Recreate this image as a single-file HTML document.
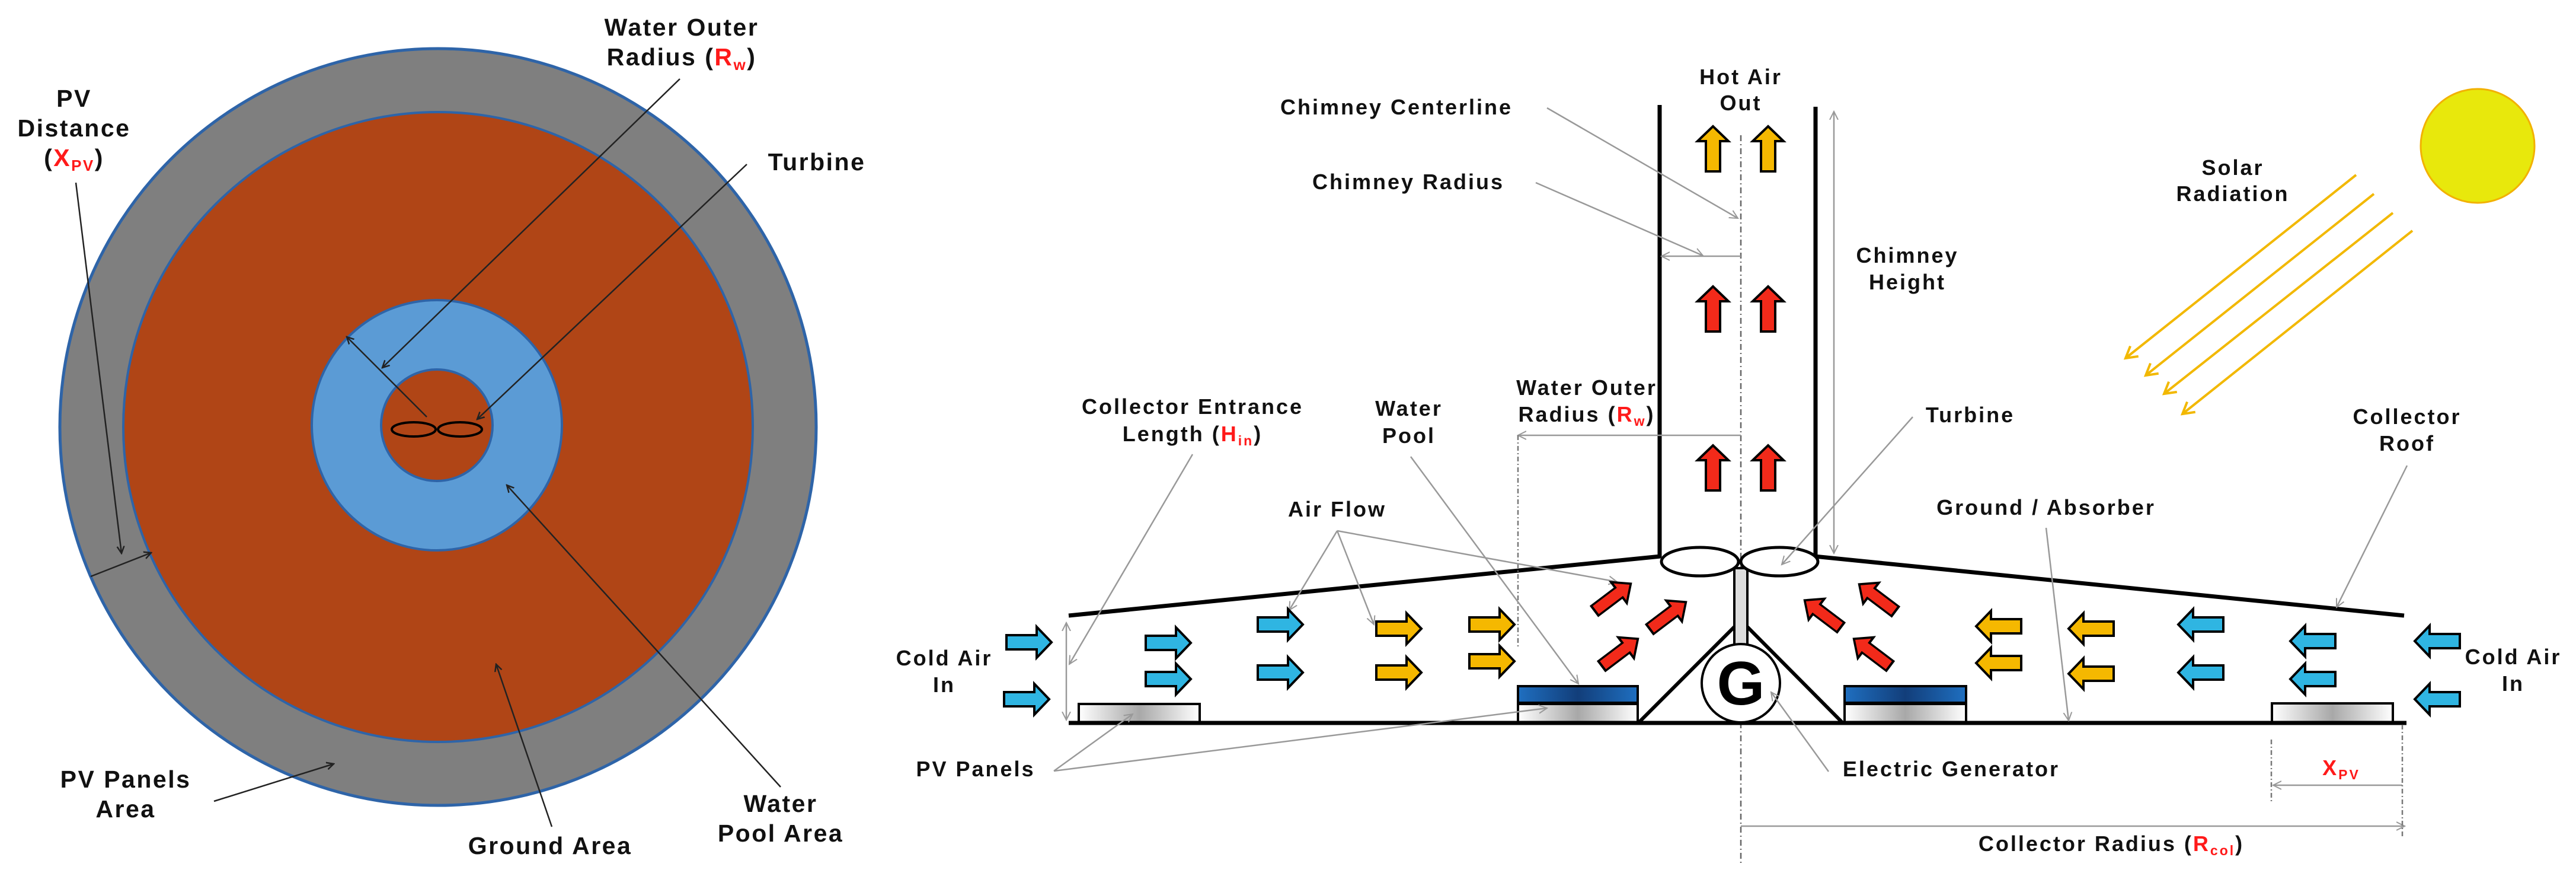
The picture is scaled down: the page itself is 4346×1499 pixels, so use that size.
<!DOCTYPE html>
<html><head><meta charset="utf-8"><style>
html,body{margin:0;padding:0;background:#fff}
svg{display:block}
text{font-family:"Liberation Sans",Arial,sans-serif;font-weight:bold;fill:#111}
.L{font-size:41px;letter-spacing:2.5px}
.R{font-size:36px;letter-spacing:3px}
.red{fill:#ff1a1a}
</style></head><body>
<svg width="4346" height="1499" viewBox="0 0 4346 1499" xmlns="http://www.w3.org/2000/svg">
<defs>
<marker id="ak" markerWidth="14" markerHeight="14" refX="12" refY="7" orient="auto" markerUnits="userSpaceOnUse"><path d="M0,1 L12,7 L0,13" fill="none" stroke="#222" stroke-width="2.5"/></marker>
<marker id="ag" markerWidth="16" markerHeight="16" refX="14" refY="8" orient="auto" markerUnits="userSpaceOnUse"><path d="M0,1 L14,8 L0,15" fill="none" stroke="#999" stroke-width="2"/></marker>
<marker id="ay" markerWidth="26" markerHeight="26" refX="20" refY="13" orient="auto" markerUnits="userSpaceOnUse"><path d="M1,2 L20,13 L1,24" fill="none" stroke="#f2b800" stroke-width="4"/></marker>
<path id="ar" d="M-38,-12 L13,-12 L13,-26 L38,0 L13,26 L13,12 L-38,12Z" stroke="#000" stroke-width="4" stroke-linejoin="miter"/>
<linearGradient id="pv" x1="0" x2="1" y1="0" y2="0"><stop offset="0" stop-color="#fff"/><stop offset="0.5" stop-color="#a8a8a8"/><stop offset="1" stop-color="#fff"/></linearGradient>
<linearGradient id="wp" x1="0" x2="1" y1="0" y2="0"><stop offset="0" stop-color="#1f6fc0"/><stop offset="0.5" stop-color="#123e7a"/><stop offset="1" stop-color="#1f6fc0"/></linearGradient>
</defs>

<!-- LEFT PANEL -->
<circle cx="739" cy="720" r="638" fill="#7f7f7f" stroke="#2e64a8" stroke-width="5"/>
<circle cx="739" cy="720" r="531" fill="#b04516" stroke="#2e64a8" stroke-width="4"/>
<circle cx="737" cy="717" r="211" fill="#5b9bd5" stroke="#2e64a8" stroke-width="4"/>
<circle cx="737" cy="717" r="94" fill="#b04516" stroke="#2e64a8" stroke-width="4"/>
<ellipse cx="698" cy="724" rx="37" ry="12" fill="none" stroke="#000" stroke-width="4"/>
<ellipse cx="776" cy="724" rx="37" ry="12" fill="none" stroke="#000" stroke-width="4"/>
<g stroke="#222" stroke-width="2.5" fill="none">
<line x1="1147" y1="133" x2="645" y2="620" marker-end="url(#ak)"/>
<line x1="720" y1="703" x2="585" y2="568" marker-end="url(#ak)"/>
<line x1="1260" y1="277" x2="805" y2="707" marker-end="url(#ak)"/>
<line x1="128" y1="308" x2="205" y2="933" marker-end="url(#ak)"/>
<line x1="153" y1="972" x2="255" y2="932" marker-end="url(#ak)"/>
<line x1="361" y1="1351" x2="563" y2="1288" marker-end="url(#ak)"/>
<line x1="931" y1="1394" x2="837" y2="1120" marker-end="url(#ak)"/>
<line x1="1317" y1="1327" x2="855" y2="818" marker-end="url(#ak)"/>
</g>
<text class="L" x="1150" y="60" text-anchor="middle">Water Outer</text>
<text class="L" x="1150" y="110" text-anchor="middle">Radius (<tspan class="red">R<tspan font-size="26" dy="8">w</tspan></tspan><tspan dy="-8">)</tspan></text>
<text class="L" x="1378" y="287" text-anchor="middle">Turbine</text>
<text class="L" x="125" y="180" text-anchor="middle">PV</text>
<text class="L" x="125" y="230" text-anchor="middle">Distance</text>
<text class="L" x="125" y="280" text-anchor="middle">(<tspan class="red">X<tspan font-size="26" dy="8">PV</tspan></tspan><tspan dy="-8">)</tspan></text>
<text class="L" x="212" y="1328" text-anchor="middle">PV Panels</text>
<text class="L" x="212" y="1378" text-anchor="middle">Area</text>
<text class="L" x="928" y="1440" text-anchor="middle">Ground Area</text>
<text class="L" x="1317" y="1369" text-anchor="middle">Water</text>
<text class="L" x="1317" y="1419" text-anchor="middle">Pool Area</text>

<!-- RIGHT PANEL -->
<line x1="2937" y1="228" x2="2937" y2="1458" stroke="#666" stroke-width="2.5" stroke-dasharray="10,5,2,5"/>
<line x1="2800" y1="177" x2="2800" y2="940" stroke="#000" stroke-width="7"/>
<line x1="3063" y1="180" x2="3063" y2="940" stroke="#000" stroke-width="7"/>
<line x1="1803" y1="1038" x2="2802" y2="938" stroke="#000" stroke-width="7"/>
<line x1="3061" y1="938" x2="4056" y2="1038" stroke="#000" stroke-width="7"/>
<rect x="1820" y="1187" width="204" height="31" fill="url(#pv)" stroke="#000" stroke-width="4"/>
<rect x="2561" y="1187" width="202" height="31" fill="url(#pv)" stroke="#000" stroke-width="4"/>
<rect x="2561" y="1157" width="202" height="28" fill="url(#wp)" stroke="#000" stroke-width="4"/>
<rect x="3112" y="1187" width="205" height="31" fill="url(#pv)" stroke="#000" stroke-width="4"/>
<rect x="3112" y="1157" width="205" height="28" fill="url(#wp)" stroke="#000" stroke-width="4"/>
<rect x="3833" y="1186" width="204" height="32" fill="url(#pv)" stroke="#000" stroke-width="4"/>
<line x1="1803" y1="1219" x2="4060" y2="1219" stroke="#000" stroke-width="7"/>
<line x1="2765" y1="1218" x2="2926" y2="1057" stroke="#000" stroke-width="6"/>
<line x1="2948" y1="1057" x2="3108" y2="1218" stroke="#000" stroke-width="6"/>
<rect x="2926" y="958" width="22" height="135" fill="#ddd" stroke="#000" stroke-width="4"/>
<circle cx="2937" cy="1152" r="66" fill="#fff" stroke="#000" stroke-width="4"/>
<text x="2937" y="1188" text-anchor="middle" style="font-size:104px;fill:#000">G</text>
<ellipse cx="2868" cy="947" rx="65" ry="24" fill="#fff" stroke="#000" stroke-width="5"/>
<ellipse cx="3002" cy="947" rx="65" ry="24" fill="#fff" stroke="#000" stroke-width="5"/>

<g stroke="#999" stroke-width="2.5" fill="none">
<line x1="2610" y1="182" x2="2932" y2="368" marker-end="url(#ag)"/>
<line x1="2591" y1="308" x2="2873" y2="431" marker-end="url(#ag)"/>
<line x1="2937" y1="432" x2="2803" y2="432" marker-end="url(#ag)"/>
<line x1="2937" y1="734" x2="2561" y2="734" marker-end="url(#ag)"/>
<line x1="2561" y1="734" x2="2561" y2="1090" stroke="#777" stroke-dasharray="8,4,2,4"/>
<line x1="2012" y1="766" x2="1804" y2="1120" marker-end="url(#ag)"/>
<line x1="1799" y1="1133" x2="1799" y2="1050" marker-end="url(#ag)"/>
<line x1="1799" y1="1133" x2="1799" y2="1214" marker-end="url(#ag)"/>
<line x1="2380" y1="770" x2="2663" y2="1153" marker-end="url(#ag)"/>
<line x1="2256" y1="895" x2="2175" y2="1029" marker-end="url(#ag)"/>
<line x1="2256" y1="895" x2="2318" y2="1053" marker-end="url(#ag)"/>
<line x1="2256" y1="895" x2="2728" y2="981" marker-end="url(#ag)"/>
<line x1="1778" y1="1300" x2="1911" y2="1204" marker-end="url(#ag)"/>
<line x1="1778" y1="1300" x2="2610" y2="1194" marker-end="url(#ag)"/>
<line x1="3227" y1="703" x2="3006" y2="952" marker-end="url(#ag)"/>
<line x1="3094" y1="560" x2="3094" y2="188" marker-end="url(#ag)"/>
<line x1="3094" y1="560" x2="3094" y2="933" marker-end="url(#ag)"/>
<line x1="3452" y1="890" x2="3490" y2="1215" marker-end="url(#ag)"/>
<line x1="3085" y1="1301" x2="2988" y2="1167" marker-end="url(#ag)"/>
<line x1="4061" y1="785" x2="3942" y2="1024" marker-end="url(#ag)"/>
<line x1="2937" y1="1393" x2="4057" y2="1393" marker-end="url(#ag)"/>
<line x1="4053" y1="1324" x2="3835" y2="1324" marker-end="url(#ag)"/>
<line x1="3832" y1="1247" x2="3832" y2="1352" stroke="#777" stroke-dasharray="8,4,2,4"/>
<line x1="4053" y1="1222" x2="4053" y2="1410" stroke="#777" stroke-dasharray="8,4,2,4"/>
</g>

<circle cx="4180" cy="246" r="96" fill="#e8e80c" stroke="#f2b100" stroke-width="3"/>
<g stroke="#f2b800" stroke-width="4" fill="none">
<line x1="3975" y1="295" x2="3586" y2="604" marker-end="url(#ay)"/>
<line x1="4005" y1="327" x2="3620" y2="633" marker-end="url(#ay)"/>
<line x1="4037" y1="359" x2="3651" y2="664" marker-end="url(#ay)"/>
<line x1="4070" y1="389" x2="3682" y2="698" marker-end="url(#ay)"/>
</g>

<g fill="#2fb5e2">
<use href="#ar" transform="translate(1736,1083)"/>
<use href="#ar" transform="translate(1732,1179)"/>
<use href="#ar" transform="translate(1971,1084)"/>
<use href="#ar" transform="translate(1971,1145)"/>
<use href="#ar" transform="translate(2160,1053)"/>
<use href="#ar" transform="translate(2160,1134)"/>
<use href="#ar" transform="translate(3713,1053) rotate(180)"/>
<use href="#ar" transform="translate(3713,1134) rotate(180)"/>
<use href="#ar" transform="translate(3902,1081) rotate(180)"/>
<use href="#ar" transform="translate(3902,1145) rotate(180)"/>
<use href="#ar" transform="translate(4112,1081) rotate(180)"/>
<use href="#ar" transform="translate(4112,1179) rotate(180)"/>
</g>
<g fill="#f5b800">
<use href="#ar" transform="translate(2360,1060)"/>
<use href="#ar" transform="translate(2360,1134)"/>
<use href="#ar" transform="translate(2517,1053)"/>
<use href="#ar" transform="translate(2517,1115)"/>
<use href="#ar" transform="translate(3372,1056) rotate(180)"/>
<use href="#ar" transform="translate(3372,1118) rotate(180)"/>
<use href="#ar" transform="translate(3528,1060) rotate(180)"/>
<use href="#ar" transform="translate(3528,1136) rotate(180)"/>
<use href="#ar" transform="translate(2890,251) rotate(-90)"/>
<use href="#ar" transform="translate(2983,251) rotate(-90)"/>
</g>
<g fill="#f22a1a">
<use href="#ar" transform="translate(2721,1007) rotate(-37) scale(1,0.85)"/>
<use href="#ar" transform="translate(2814,1038) rotate(-37) scale(1,0.85)"/>
<use href="#ar" transform="translate(2733,1100) rotate(-37) scale(1,0.85)"/>
<use href="#ar" transform="translate(3167,1008) rotate(-143) scale(1,0.85)"/>
<use href="#ar" transform="translate(3075,1035) rotate(-143) scale(1,0.85)"/>
<use href="#ar" transform="translate(3158,1100) rotate(-143) scale(1,0.85)"/>
<use href="#ar" transform="translate(2890,521) rotate(-90)"/>
<use href="#ar" transform="translate(2983,521) rotate(-90)"/>
<use href="#ar" transform="translate(2890,789) rotate(-90)"/>
<use href="#ar" transform="translate(2983,789) rotate(-90)"/>
</g>

<text class="R" x="2937" y="142" text-anchor="middle">Hot Air</text>
<text class="R" x="2937" y="186" text-anchor="middle">Out</text>
<text class="R" x="2356" y="193" text-anchor="middle">Chimney Centerline</text>
<text class="R" x="2376" y="319" text-anchor="middle">Chimney Radius</text>
<text class="R" x="2677" y="666" text-anchor="middle">Water Outer</text>
<text class="R" x="2677" y="711" text-anchor="middle">Radius (<tspan class="red">R<tspan font-size="23" dy="7">w</tspan></tspan><tspan dy="-7">)</tspan></text>
<text class="R" x="2012" y="698" text-anchor="middle">Collector Entrance</text>
<text class="R" x="2012" y="744" text-anchor="middle">Length (<tspan class="red">H<tspan font-size="23" dy="7">in</tspan></tspan><tspan dy="-7">)</tspan></text>
<text class="R" x="2377" y="701" text-anchor="middle">Water</text>
<text class="R" x="2377" y="747" text-anchor="middle">Pool</text>
<text class="R" x="2256" y="871" text-anchor="middle">Air Flow</text>
<text class="R" x="1593" y="1122" text-anchor="middle">Cold Air</text>
<text class="R" x="1593" y="1167" text-anchor="middle">In</text>
<text class="R" x="1646" y="1309" text-anchor="middle">PV Panels</text>
<text class="R" x="3218" y="443" text-anchor="middle">Chimney</text>
<text class="R" x="3218" y="488" text-anchor="middle">Height</text>
<text class="R" x="3767" y="295" text-anchor="middle">Solar</text>
<text class="R" x="3767" y="339" text-anchor="middle">Radiation</text>
<text class="R" x="3324" y="712" text-anchor="middle">Turbine</text>
<text class="R" x="3452" y="868" text-anchor="middle">Ground / Absorber</text>
<text class="R" x="4061" y="715" text-anchor="middle">Collector</text>
<text class="R" x="4061" y="760" text-anchor="middle">Roof</text>
<text class="R" x="4240" y="1120" text-anchor="middle">Cold Air</text>
<text class="R" x="4240" y="1165" text-anchor="middle">In</text>
<text class="R" x="3292" y="1309" text-anchor="middle">Electric Generator</text>
<text class="R" x="3950" y="1307" text-anchor="middle"><tspan class="red">X<tspan font-size="23" dy="7">PV</tspan></tspan></text>
<text class="R" x="3562" y="1435" text-anchor="middle">Collector Radius (<tspan class="red">R<tspan font-size="23" dy="7">col</tspan></tspan><tspan dy="-7">)</tspan></text>
</svg>
</body></html>
